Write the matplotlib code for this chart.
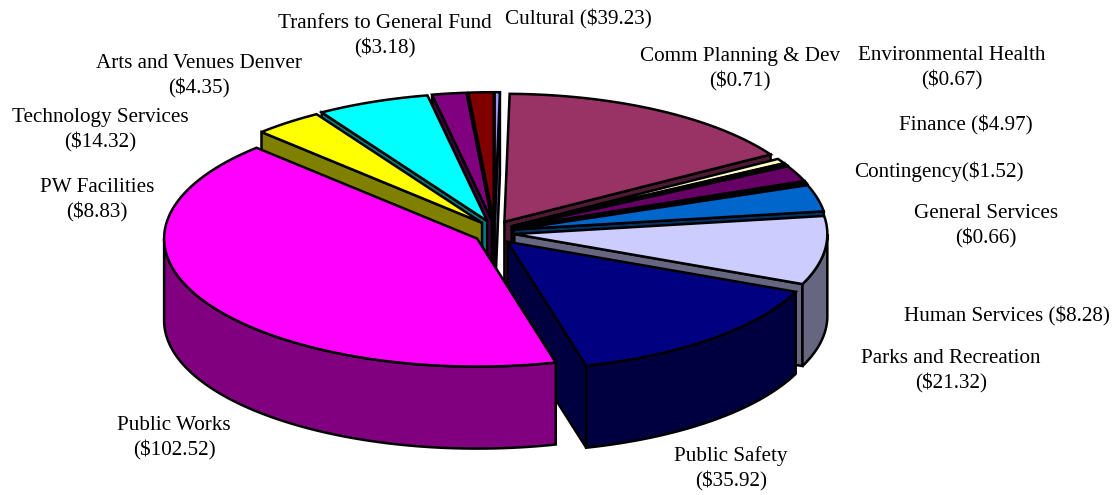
import numpy as np
import matplotlib
matplotlib.use("Agg")
import matplotlib.pyplot as plt
from matplotlib.patches import Polygon

# -----------------------------
# Data (clockwise from 12 o'clock)
# -----------------------------
values = [0.66, 39.23, 1.52, 0.71, 4.97, 0.67, 8.28, 21.32, 35.92, 102.52, 8.83, 14.32, 4.35, 3.18]
colors = ["#9999FF", "#993366", "#FFFFCC", "#000000", "#660066", "#000000", "#0066CC",
          "#CCCCFF", "#000080", "#FF00FF", "#FFFF00", "#00FFFF", "#800080", "#800000"]

labels = [
    "Tranfers to General Fund\n($3.18)",
    "Cultural ($39.23)",
    "Comm Planning & Dev\n($0.71)",
    "Environmental Health\n($0.67)",
    "Finance ($4.97)",
    "Contingency($1.52)",
    "General Services\n($0.66)",
    "Human Services ($8.28)",
    "Parks and Recreation\n($21.32)",
    "Public Safety\n($35.92)",
    "Public Works\n($102.52)",
    "PW Facilities\n($8.83)",
    "Technology Services\n($14.32)",
    "Arts and Venues Denver\n($4.35)",
]
label_x = [385, 578, 740, 952, 966, 939, 986, 1007, 951, 731, 174, 97, 100, 199]
label_y = [36, 19, 69.5, 68, 125, 172, 226, 316, 371.5, 468.5, 438, 200, 130, 76]

# -----------------------------
# Pie geometry, in pixels
# -----------------------------
cx, cy = 494.5, 232.5
rx, ry = 313, 128
depth = 82
explode_x, explode_y = 20, 12.3
lw = 1.8


def shade(color):
    rgb = np.array(matplotlib.colors.to_rgb(color))
    return tuple(rgb * 0.5)


def rim(theta, ax0, ay0):
    # theta in degrees clockwise from the top
    t = np.radians(theta)
    return ax0 + rx * np.sin(t), ay0 - ry * np.cos(t)


fig = plt.figure(figsize=(11.17, 4.95), dpi=100)
ax = fig.add_axes([0, 0, 1, 1])
ax.set_xlim(0, 1117)
ax.set_ylim(495, 0)
ax.axis("off")

edges = np.concatenate([[0], np.cumsum(values)]) / np.sum(values) * 360
mids = (edges[:-1] + edges[1:]) / 2

# back slices first, the big slice sits in front of everything
order = sorted(range(len(values)),
               key=lambda i: (values[i] == max(values), np.cos(np.radians(mids[i])) * -1))

for i in order:
    a0, a1 = edges[i], edges[i + 1]
    m = np.radians(mids[i])
    ax0 = cx + explode_x * np.sin(m)
    ay0 = cy - explode_y * np.cos(m)
    side = shade(colors[i])
    style = dict(edgecolor="black", linewidth=lw, joinstyle="miter")

    # cut faces, only those turned towards the viewer
    for a, visible in ((a0, a0 > 180), (a1, a1 < 180)):
        if visible:
            x, y = rim(a, ax0, ay0)
            ax.add_patch(Polygon([(ax0, ay0), (x, y), (x, y + depth), (ax0, ay0 + depth)],
                                 facecolor=side, **style))

    # outer wall, only the part facing the viewer
    w0, w1 = max(a0, 90), min(a1, 270)
    if w1 > w0:
        t = np.linspace(w0, w1, 120)
        x, y = rim(t, ax0, ay0)
        ax.add_patch(Polygon(np.r_[np.c_[x, y], np.c_[x, y + depth][::-1]],
                             facecolor=side, **style))

    # top
    t = np.linspace(a0, a1, max(int(a1 - a0) * 2, 4))
    x, y = rim(t, ax0, ay0)
    ax.add_patch(Polygon(np.r_[[(ax0, ay0)], np.c_[x, y]], facecolor=colors[i], **style))

for text, x, y in zip(labels, label_x, label_y):
    ax.text(x, y, text, ha="center", va="center", family="Liberation Serif",
            fontsize=15.2, linespacing=1.36, color="black")

fig.savefig("out.png", dpi=100)
